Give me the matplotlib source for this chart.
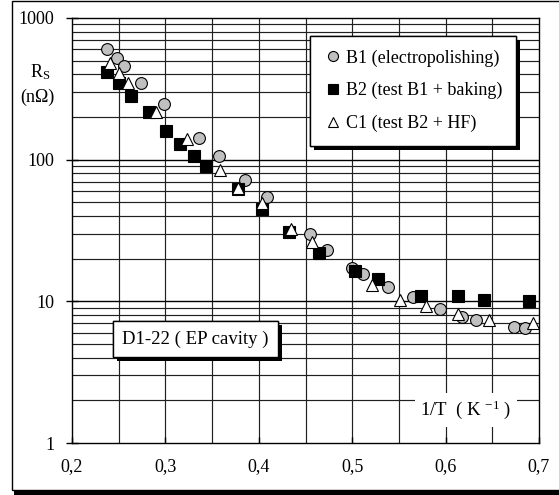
import numpy as np
import matplotlib
matplotlib.use('Agg')
import matplotlib.pyplot as plt
import matplotlib.patheffects as pe
from matplotlib.patches import Rectangle

plt.rcParams['font.family'] = ['Liberation Serif', 'DejaVu Serif']
plt.rcParams['mathtext.fontset'] = 'custom'
plt.rcParams['mathtext.rm'] = 'Liberation Serif'
plt.rcParams['mathtext.it'] = 'Liberation Serif:italic'

# B1 (electropolishing)
b1_x = [0.238, 0.248, 0.256, 0.274, 0.299, 0.336, 0.357, 0.385, 0.409, 0.455,
        0.473, 0.500, 0.512, 0.538, 0.565, 0.594, 0.618, 0.633, 0.673, 0.685]
b1_y = [604, 522, 458, 346, 248, 143, 106, 72.3, 54.4, 30.1,
        23.2, 17.1, 15.5, 12.6, 10.75, 8.76, 7.69, 7.44, 6.64, 6.48]

# B2 (test B1 + baking)
b2_x = [0.238, 0.250, 0.263, 0.282, 0.301, 0.316, 0.331, 0.344, 0.378, 0.403,
        0.432, 0.464, 0.503, 0.528, 0.574, 0.613, 0.641, 0.689]
b2_y = [413, 346, 283, 216, 159, 129, 107, 90, 62.5, 45,
        30.9, 22.1, 16.3, 14.3, 10.96, 10.9, 10.3, 10.07]

# C1 (test B2 + HF)
c1_x = [0.241, 0.250, 0.260, 0.290, 0.323, 0.358, 0.378, 0.403, 0.435, 0.457,
        0.521, 0.551, 0.579, 0.613, 0.646, 0.694]
c1_y = [479, 411, 349, 218, 141, 84.8, 63.3, 49.1, 32.2, 26.4,
        13.1, 10.2, 9.24, 8.09, 7.39, 7.04]

x_ticks = [0.2, 0.3, 0.4, 0.5, 0.6, 0.7]
x_labels = ['0,2', '0,3', '0,4', '0,5', '0,6', '0,7']
y_ticks = [1, 10, 100, 1000]
y_labels = ['1', '10', '100', '1000']

fig = plt.figure(figsize=(5.59, 4.95), dpi=100)
ax = fig.add_axes([72 / 559, 52 / 495, 467 / 559, 425 / 495])
ax.set_zorder(2)

# outer frame with shadow at the bottom
fig.patches.append(Rectangle((14 / 559, 0), 1, 5 / 495, transform=fig.transFigure,
                             facecolor='black', edgecolor='none', zorder=-2))
fig.patches.append(Rectangle((12 / 559, 5 / 495), 1, 489 / 495, transform=fig.transFigure,
                             facecolor='white', edgecolor='black', lw=1, zorder=-1))

ax.set_yscale('log')
ax.set_xlim(0.2, 0.7)
ax.set_ylim(1, 1000)

# grid
for xv in np.arange(0.25, 0.7, 0.05):
    ax.axvline(xv, color='#202020', lw=0.85, zorder=1)
for dec in [1, 10, 100]:
    for m in range(2, 10):
        ax.axhline(dec * m, color='#202020', lw=0.85, zorder=1)
    if dec > 1:
        ax.axhline(dec, color='black', lw=1.0, zorder=1)

ms = 8
ax.plot(b1_x, b1_y, 'o', color='#c0c0c0', mec='black', mew=0.8, ms=ms + 0.5,
        label='B1 (electropolishing)', zorder=3)
ax.plot(b2_x, b2_y, 's', color='black', mec='black', mew=0.8, ms=ms,
        label='B2 (test B1 + baking)', zorder=4)
ax.plot(c1_x, c1_y, '^', color='white', mec='black', mew=0.8, ms=ms + 1,
        label='C1 (test B2 + HF)', zorder=5)

ax.set_xticks(x_ticks)
ax.set_xticklabels(x_labels)
ax.set_yticks(y_ticks)
ax.set_yticklabels(y_labels)
ax.yaxis.set_minor_locator(matplotlib.ticker.NullLocator())
ax.tick_params(axis='x', direction='in', length=4.5, width=1, labelsize=13, pad=11)
ax.tick_params(axis='y', direction='inout', length=9, width=1, labelsize=13, pad=8)
for s in ax.spines.values():
    s.set_linewidth(1)
    s.set_color('black')

leg = ax.legend(loc='upper left', bbox_to_anchor=(0.51, 0.958), fontsize=13,
                frameon=True, fancybox=False, framealpha=1, edgecolor='black',
                handlelength=1.0, handletextpad=0.25, labelspacing=0.85,
                borderpad=0.75, borderaxespad=0, markerscale=0.85)
leg.get_frame().set_linewidth(1)
leg.get_frame().set_path_effects([pe.withSimplePatchShadow(offset=(3, -3),
                                  shadow_rgbFace='black', alpha=1), pe.Normal()])
leg.set_zorder(10)

t = ax.text(0.2645, 0.2447, 'D1-22 ( EP cavity )', transform=ax.transAxes,
            ha='center', va='center', fontsize=13.5, zorder=10,
            bbox=dict(boxstyle='square,pad=0.5', facecolor='white', edgecolor='black', lw=1))
t.get_bbox_patch().set_path_effects([pe.withSimplePatchShadow(offset=(3, -3),
                                     shadow_rgbFace='black', alpha=1), pe.Normal()])

ax.text(0.8437, 0.0776, r'1/T  ( K $^{\mathregular{-1}}$ )', transform=ax.transAxes,
        ha='center', va='center', fontsize=13.5, zorder=10,
        bbox=dict(boxstyle='square,pad=0.3', facecolor='white', edgecolor='none'))

fig.text(40 / 559, 1 - 72 / 495, r'R$_\mathregular{S}$', ha='center', va='center', fontsize=13)
fig.text(37 / 559, 1 - 97 / 495, '(n\u03a9)', ha='center', va='center', fontsize=13)

fig.savefig('out.png', dpi=100)
